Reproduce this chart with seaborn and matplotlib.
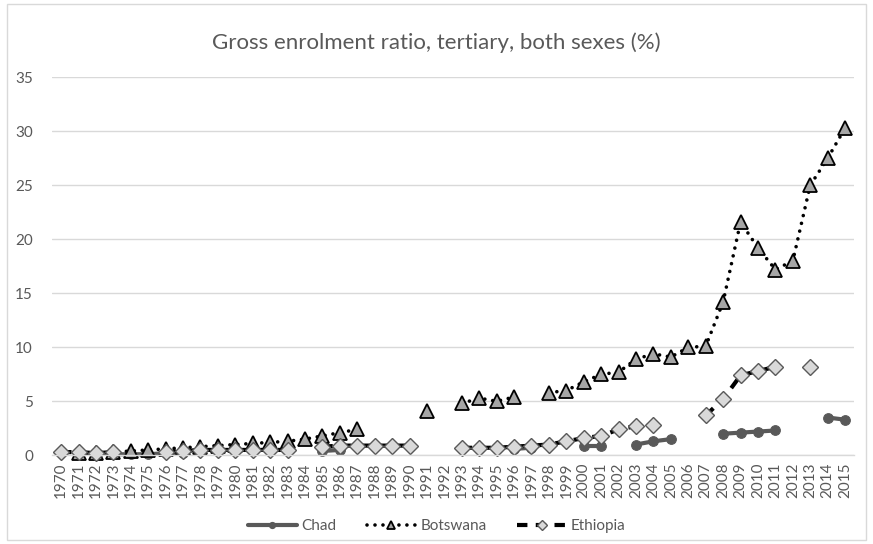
import numpy as np
import pandas as pd
import matplotlib.pyplot as plt
import seaborn as sns
from matplotlib.patches import Rectangle
from matplotlib.lines import Line2D

years = list(range(1970, 2016))

# values, None = no data
chad = [None, None, None, 0.1, 0.1, 0.1, 0.2, 0.2, None, None,
        None, None, None, None, None, 0.4, 0.5, None, None, None,
        None, None, None, None, None, None, 0.6, 0.7, None, None,
        0.9, 0.9, None, 1.0, 1.3, 1.5, None, None, 2.0, 2.1,
        2.2, 2.3, None, None, 3.5, 3.3]
botswana = [None, 0.2, 0.2, 0.3, 0.4, 0.5, 0.6, 0.7, 0.8, 0.9,
            1.0, 1.1, 1.2, 1.3, 1.5, 1.8, 2.1, 2.4, None, None,
            None, 4.1, None, 4.8, 5.3, 5.0, 5.4, None, 5.8, 6.0,
            6.8, 7.5, 7.7, 8.9, 9.4, 9.1, 10.0, 10.1, 14.2, 21.6,
            19.2, 17.2, 18.0, 25.0, 27.5, 30.3]
ethiopia = [0.3, 0.3, 0.2, 0.3, None, None, 0.3, 0.4, 0.5, 0.5,
            0.5, 0.5, 0.5, 0.5, None, 0.8, 0.9, 0.9, 0.9, 0.9,
            0.9, None, None, 0.7, 0.7, 0.7, 0.8, 0.9, 1.0, 1.3,
            1.6, 1.8, 2.4, 2.7, 2.8, None, None, 3.7, 5.2, 7.4,
            7.8, 8.2, None, 8.2, None, None]

grey = "#595959"


def to_frame(vals):
    df = pd.DataFrame({"year": years, "value": vals})
    # split into runs so the line breaks at missing years
    df["seg"] = df["value"].isna().cumsum()
    return df.dropna()


sns.set_style("white")
plt.rcParams["font.family"] = ["Lato", "DejaVu Sans"]

fig = plt.figure(figsize=(8.73, 5.44), dpi=100)
ax = fig.add_axes([0.06, 0.163, 0.918, 0.695])

styles = [
    ("Chad", chad, dict(color=grey, linewidth=3, marker="o", markersize=7,
                        markerfacecolor=grey, markeredgecolor=grey)),
    ("Botswana", botswana, dict(color="black", linewidth=2.6, linestyle=(0, (0.01, 2.2)),
                                dash_capstyle="round", marker="^", markersize=10,
                                markerfacecolor="#a6a6a6", markeredgecolor="black",
                                markeredgewidth=1.3)),
    ("Ethiopia", ethiopia, dict(color="black", linewidth=3, linestyle=(0, (2.5, 2)),
                                marker="D", markersize=8, markerfacecolor="#d9d9d9",
                                markeredgecolor=grey, markeredgewidth=1)),
]

for name, vals, kw in styles:
    df = to_frame(vals)
    sns.lineplot(data=df, x="year", y="value", units="seg", estimator=None,
                 ax=ax, legend=False, **kw)

for ln in ax.lines:
    ln.set_clip_on(False)

ax.set_xlim(1969.5, 2015.5)
ax.set_ylim(0, 35)
ax.set_yticks(range(0, 36, 5))
ax.set_xticks(years)
ax.set_xticklabels([str(y) for y in years], rotation=90)
ax.tick_params(axis="both", colors=grey, labelsize=11, length=0)
ax.tick_params(axis="y", pad=14)
ax.tick_params(axis="x", pad=5)
ax.set_xlabel("")
ax.set_ylabel("")
ax.grid(axis="y", color="#d9d9d9", linewidth=1)
ax.set_axisbelow(True)
for s in ["top", "right", "left"]:
    ax.spines[s].set_visible(False)
ax.spines["bottom"].set_color("#d9d9d9")
ax.spines["bottom"].set_linewidth(1)

fig.text(0.5, 0.921, "Gross enrolment ratio, tertiary, both sexes (%)",
         ha="center", va="center", fontsize=16, color=grey)

handles = [Line2D([], [], **kw) for _, _, kw in styles]
fig.legend(handles, [n for n, _, _ in styles], loc="center", bbox_to_anchor=(0.5, 0.033),
           ncol=3, frameon=False, fontsize=11, labelcolor=grey, handlelength=3.2,
           markerscale=0.6, columnspacing=2.0, handletextpad=0.3)

fig.patches.append(Rectangle((0.008, 0.008), 0.984, 0.984, transform=fig.transFigure,
                             fill=False, edgecolor="#d9d9d9", linewidth=1))

fig.savefig("out.png", dpi=100)
